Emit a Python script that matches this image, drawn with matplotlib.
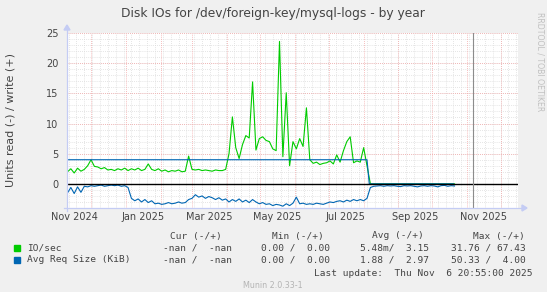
import matplotlib
matplotlib.use("Agg")
import matplotlib.pyplot as plt
from matplotlib.lines import Line2D
from matplotlib.patches import Rectangle, Polygon
import pandas as pd

W, H = 547, 292

# samples every 3 days from 2024-11-10
sample_start = "2024-11-10"
sample_step = "3D"

# IO/sec, write (+)
io_write = [
    2.0, 2.5, 1.8, 2.6, 2.1, 2.4, 3.0, 4.0, 2.9, 2.8,
    2.5, 2.7, 2.3, 2.4, 2.2, 2.5, 2.3, 2.6, 2.2, 2.5,
    2.3, 2.6, 2.2, 2.4, 3.3, 2.4, 2.2, 2.5, 2.1, 2.3,
    2.0, 2.2, 2.1, 2.3, 2.0, 2.1, 4.6, 2.4, 2.3, 2.4,
    2.2, 2.3, 2.2, 2.1, 2.3, 2.2, 2.2, 2.4, 5.0, 11.1,
    6.0, 4.2, 6.5, 8.0, 7.6, 16.9, 5.6, 7.5, 7.8, 7.2,
    7.0, 5.8, 5.5, 23.6, 4.5, 15.1, 3.0, 7.0, 5.8, 7.5,
    6.2, 12.6, 4.0, 3.4, 3.6, 3.2, 3.4, 3.5, 3.8, 3.3,
    4.8, 3.6, 5.5, 7.0, 7.8, 3.5, 3.8, 3.6, 6.0, 3.0,
    0.0, 0.0, 0.0, 0.0, 0.0, 0.0, 0.0, 0.0, 0.0, 0.0,
    0.0, 0.0, 0.0, 0.0, 0.0, 0.0, 0.0, 0.0, 0.0, 0.0,
    0.0, 0.0, 0.0, 0.0, 0.0, 0.0,
]

# Avg Req Size, read (-) shown negative
req_read = [
    -1.5, -0.6, -1.6, -0.5, -1.4, -0.4, -0.5, -0.3, -0.4, -0.3,
    -0.2, -0.4, -0.3, -0.2, -0.3, -0.2, -0.4, -0.3, -0.6, -2.4,
    -2.8, -2.5, -3.0, -2.6, -3.1, -2.8, -3.3, -3.2, -3.4, -3.3,
    -3.1, -3.3, -3.2, -3.0, -3.2, -3.1, -2.6, -2.4, -1.8, -2.2,
    -2.0, -2.4, -2.1, -2.3, -2.6, -2.3, -2.7, -2.5, -3.0, -2.6,
    -2.9, -2.5, -3.0, -2.7, -3.1, -2.6, -3.0, -3.3, -3.1, -3.4,
    -3.3, -3.6, -3.4, -3.5, -3.7, -3.3, -3.6, -3.2, -2.2, -3.3,
    -3.2, -3.4, -3.3, -3.4, -3.2, -3.3, -3.4, -3.2, -3.0, -3.1,
    -2.9, -2.8, -3.0, -2.7, -2.9, -2.6, -2.8, -2.6, -2.8, -2.4,
    -0.6, -0.4, -0.35, -0.3, -0.4, -0.3, -0.35, -0.3, -0.4, -0.45,
    -0.3, -0.35, -0.3, -0.4, -0.5, -0.35, -0.3, -0.4, -0.3, -0.35,
    -0.5, -0.3, -0.25, -0.4, -0.3, -0.35,
]

# Avg Req Size, write (+): flat 4 KiB, then 0
req_write_dates = ["2024-11-10", "2025-08-04", "2025-08-06", "2025-10-20"]
req_write = [4.0, 4.0, 0.0, 0.0]

now = "2025-11-06 20:55"
x_start = pd.Timestamp("2024-11-09 14:00")
x_end = x_start + pd.Timedelta(days=402)
y_min, y_max = -4, 25

label_months = ["2024-11-01", "2025-01-01", "2025-03-01", "2025-05-01",
                "2025-07-01", "2025-09-01", "2025-11-01"]

legend_rows = [
    ("IO/sec", "#00CC00", "-nan /  -nan", "0.00 /  0.00", "5.48m/  3.15", "31.76 / 67.43"),
    ("Avg Req Size (KiB)", "#0066B3", "-nan /  -nan", "0.00 /  0.00", "1.88 /  2.97", "50.33 /  4.00"),
]

GREEN = "#00CC00"
BLUE = "#0066B3"
TXT = "#444444"
MONO = "DejaVu Sans Mono"

fig = plt.figure(figsize=(W / 100, H / 100), dpi=100, facecolor="#F0F0F0")
L, R, T, B = 67, 518, 33, 208
ax = fig.add_axes([L / W, 1 - B / H, (R - L) / W, (B - T) / H])
ax.set_facecolor("white")

dates = pd.date_range(sample_start, periods=len(io_write), freq=sample_step)

# grid
for d in pd.date_range("2024-11-11", x_end, freq="W-MON"):
    ax.axvline(d, color="#dcdcdc", lw=0.6, ls=(0, (1, 1.5)), zorder=1)
for v in range(y_min, y_max + 1):
    ax.axhline(v, color="#dcdcdc", lw=0.6, ls=(0, (1, 1.5)), zorder=1)
for d in pd.date_range("2024-12-01", x_end, freq="MS"):
    ax.axvline(d, color="#f4a8a8", lw=0.6, ls=(0, (1, 1.5)), zorder=2)
for v in range(0, y_max + 1, 5):
    ax.axhline(v, color="#f4a8a8", lw=0.6, ls=(0, (1, 1.5)), zorder=2)

ax.plot(dates, io_write, color=GREEN, lw=0.8, zorder=4)
ax.plot(pd.to_datetime(req_write_dates), req_write, color=BLUE, lw=0.8, zorder=4)
ax.plot(dates, req_read, color=BLUE, lw=0.8, zorder=4)

ax.axhline(0, color="black", lw=1.0, zorder=5)
ax.axvline(pd.Timestamp(now), color="#8c8c8c", lw=0.8, zorder=5)

ax.set_xlim(x_start, x_end)
ax.set_ylim(y_min, y_max)

label_pos = [pd.Timestamp(m) + pd.Timedelta(days=15) for m in label_months]
ax.set_xticks(label_pos)
ax.set_xticklabels([pd.Timestamp(m).strftime("%b %Y") for m in label_months])
ax.set_yticks(range(0, y_max + 1, 5))
ax.tick_params(length=0, labelsize=7, colors=TXT, pad=3)
ax.tick_params(axis="y", pad=6)
for s in ax.spines.values():
    s.set_visible(False)

# axis lines with arrows (pixel coords)
ac = "#c4ccf4"
def px(x, y):
    return (x / W, 1 - y / H)
fig.add_artist(Line2D([L / W, L / W], [1 - (B + 3) / H, 1 - 29 / H], color=ac, lw=0.9))
fig.add_artist(Line2D([(L - 3) / W, 523 / W], [1 - B / H, 1 - B / H], color=ac, lw=0.9))
fig.add_artist(Polygon([px(L - 3, 30), px(L + 3, 30), px(L, 25)], closed=True, color=ac))
fig.add_artist(Polygon([px(522, B - 3), px(522, B + 3), px(527, B)], closed=True, color=ac))

fig.text(273 / W, 1 - 13 / H, "Disk IOs for /dev/foreign-key/mysql-logs - by year",
         ha="center", va="center", fontsize=8.8, color=TXT)
fig.text(11 / W, 1 - 120 / H, "Units read (-) / write (+)", rotation=90,
         ha="center", va="center", fontsize=8, color=TXT)
fig.text(540 / W, 1 - 12 / H, "RRDTOOL / TOBI OETIKER", rotation=270,
         ha="center", va="top", fontsize=5.6, color="#c0c0c0")

# legend
fs = 6.8
hy = 1 - 236 / H
for txt, xr in zip(["Cur (-/+)", "Min (-/+)", "Avg (-/+)", "Max (-/+)"], [222, 324, 424, 525]):
    fig.text(xr / W, hy, txt, ha="right", va="center", family=MONO, fontsize=fs, color=TXT)
for i, (name, col, cur, mn, avg, mx) in enumerate(legend_rows):
    yc = 248 + 12 * i
    fig.add_artist(Rectangle(((13.5) / W, 1 - (yc + 3) / H), 6 / W, 6 / H, color=col))
    fig.text(27 / W, 1 - yc / H, name, ha="left", va="center", family=MONO, fontsize=fs, color=TXT)
    for txt, xr in zip([cur, mn, avg, mx], [232, 330, 429, 526]):
        fig.text(xr / W, 1 - yc / H, txt, ha="right", va="center", family=MONO, fontsize=fs, color=TXT)
fig.text(532 / W, 1 - 273 / H, "Last update:  Thu Nov  6 20:55:00 2025", ha="right", va="center",
         family=MONO, fontsize=fs, color=TXT)
fig.text(273 / W, 1 - 285 / H, "Munin 2.0.33-1", ha="center", va="center",
         fontsize=5.8, color="#b4b4b4")

fig.savefig("out.png", dpi=100, facecolor=fig.get_facecolor())
